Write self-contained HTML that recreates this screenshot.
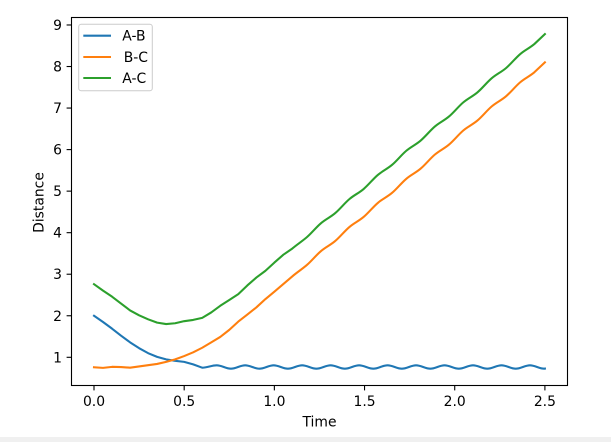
<!DOCTYPE html>
<html><head><meta charset="utf-8"><style>
html,body{margin:0;padding:0;background:#fff;}
svg{display:block;}
text{font-family:"DejaVu Sans","Liberation Sans",sans-serif;font-size:13.9px;fill:#000;}
</style></head><body>
<svg width="611" height="442" viewBox="0 0 611 442" xmlns="http://www.w3.org/2000/svg">
<rect x="0" y="0" width="611" height="442" fill="#fff"/>
<rect x="0" y="437" width="611" height="5" fill="#f0f0f0"/>

<!-- series -->
<g fill="none" stroke-width="2.08" stroke-linejoin="round" stroke-linecap="square">
<path stroke="#1f77b4" d="M94,315.76 L103.02,322.0 L112.04,328.64 L121.05,335.7 L130.07,342.35 L139.09,348.16 L148.11,353.15 L157.13,356.88 L166.14,359.38 L175.16,360.83 L184.18,361.87 L193.2,364.36 L202.2,367.7 C207.3,367.7 211.6,365.3 216.7,365.3 S225.84,368.7 230.94,368.7 S240.08,365.3 245.18,365.3 S254.32,368.7 259.42,368.7 S268.56,365.3 273.66,365.3 S282.8,368.7 287.9,368.7 S297.04,365.3 302.14,365.3 S311.28,368.7 316.38,368.7 S325.52,365.3 330.62,365.3 S339.76,368.7 344.86,368.7 S354,365.3 359.1,365.3 S368.24,368.7 373.34,368.7 S382.48,365.3 387.58,365.3 S396.72,368.7 401.82,368.7 S410.96,365.3 416.06,365.3 S425.2,368.7 430.3,368.7 S439.44,365.3 444.54,365.3 S453.68,368.7 458.78,368.7 S467.92,365.3 473.02,365.3 S482.16,368.7 487.26,368.7 S496.4,365.3 501.5,365.3 S510.64,368.7 515.74,368.7 S524.88,365.3 529.98,365.3 S539.12,368.7 544.22,368.7 L544.9,368.6"/>
<path stroke="#ff7f0e" d="M94,367.27 L103.02,367.89 L112.04,366.85 L121.05,367.06 L130.07,367.68 L139.09,366.44 L148.11,365.19 L157.13,363.95 L166.14,361.87 L175.16,359.38 L184.18,356.05 L193.2,352.32 L202.22,347.75 L211.23,342.35 L220.25,336.95 L229.27,329.88 L238.29,321.58 L247.31,314.51 L256.32,307.45 L265.34,299.14 L274.36,291.67 L292.4,276.3 C297.4,272.06 301.64,269.47 306.64,265.23 S315.88,255.41 320.88,251.17 S330.12,245.34 335.12,241.1 S344.36,231.28 349.36,227.04 S358.6,221.21 363.6,216.97 S372.84,207.14 377.84,202.9 S387.08,197.08 392.08,192.84 S401.32,183.01 406.32,178.77 S415.56,172.95 420.56,168.71 S429.8,158.88 434.8,154.64 S444.04,148.81 449.04,144.57 S458.28,134.75 463.28,130.51 S472.52,124.68 477.52,120.44 S486.76,110.62 491.76,106.38 S501,100.55 506,96.31 S515.24,86.48 520.24,82.24 S529.48,76.42 534.48,72.18 L544.9,62.37"/>
<path stroke="#2ca02c" d="M94,284.19 L103.02,290.6 L112.04,296.65 L121.05,303.6 L130.07,310.4 L139.09,315.3 L148.11,319.3 L157.13,322.6 L166.14,324.07 L175.16,323.24 L184.18,321.16 L193.2,319.91 L202.22,317.84 L211.23,312.44 L220.25,305.79 L229.27,299.97 L238.29,294.16 L247.31,285.44 L256.32,277.54 L265.34,270.9 L274.36,262.59 L283.38,254.7 L292.4,248.47 C297.4,244.23 301.64,241.62 306.64,237.38 S315.88,227.53 320.88,223.29 S330.12,217.44 335.12,213.2 S344.36,203.35 349.36,199.11 S358.6,193.26 363.6,189.02 S372.84,179.17 377.84,174.93 S387.08,169.08 392.08,164.84 S401.32,154.99 406.32,150.75 S415.56,144.9 420.56,140.66 S429.8,130.81 434.8,126.57 S444.04,120.72 449.04,116.48 S458.28,106.63 463.28,102.39 S472.52,96.54 477.52,92.3 S486.76,82.45 491.76,78.21 S501,72.36 506,68.12 S515.24,58.27 520.24,54.03 S529.48,48.18 534.48,43.94 L544.9,34.12"/>
</g>

<!-- axes frame -->
<rect x="71.5" y="17.5" width="496" height="368" fill="none" stroke="#000" stroke-width="1.1"/>

<!-- y ticks -->
<g stroke="#000" stroke-width="1.1">
<line x1="66.6" y1="357.3" x2="71.5" y2="357.3"/>
<line x1="66.6" y1="315.76" x2="71.5" y2="315.76"/>
<line x1="66.6" y1="274.22" x2="71.5" y2="274.22"/>
<line x1="66.6" y1="232.68" x2="71.5" y2="232.68"/>
<line x1="66.6" y1="191.14" x2="71.5" y2="191.14"/>
<line x1="66.6" y1="149.6" x2="71.5" y2="149.6"/>
<line x1="66.6" y1="108.06" x2="71.5" y2="108.06"/>
<line x1="66.6" y1="66.52" x2="71.5" y2="66.52"/>
<line x1="66.6" y1="24.98" x2="71.5" y2="24.98"/>
</g>
<g text-anchor="end">
<text x="62" y="362.3">1</text>
<text x="62" y="320.8">2</text>
<text x="62" y="279.2">3</text>
<text x="62" y="237.7">4</text>
<text x="62" y="196.1">5</text>
<text x="62" y="154.6">6</text>
<text x="62" y="113.1">7</text>
<text x="62" y="71.5">8</text>
<text x="62" y="30">9</text>
</g>

<!-- x ticks -->
<g stroke="#000" stroke-width="1.1">
<line x1="94" y1="385.5" x2="94" y2="390.4"/>
<line x1="184.18" y1="385.5" x2="184.18" y2="390.4"/>
<line x1="274.36" y1="385.5" x2="274.36" y2="390.4"/>
<line x1="364.54" y1="385.5" x2="364.54" y2="390.4"/>
<line x1="454.72" y1="385.5" x2="454.72" y2="390.4"/>
<line x1="544.9" y1="385.5" x2="544.9" y2="390.4"/>
</g>
<g text-anchor="middle">
<text x="94" y="405.8">0.0</text>
<text x="184.18" y="405.8">0.5</text>
<text x="274.36" y="405.8">1.0</text>
<text x="364.54" y="405.8">1.5</text>
<text x="454.72" y="405.8">2.0</text>
<text x="544.9" y="405.8">2.5</text>
</g>

<!-- axis labels -->
<text x="319.5" y="426.5" text-anchor="middle">Time</text>
<text transform="translate(43.3,202.5) rotate(-90)" text-anchor="middle">Distance</text>

<!-- legend -->
<rect x="78.7" y="24.3" width="73.6" height="66.4" rx="2.5" ry="2.5" fill="#fff" fill-opacity="0.8" stroke="#cccccc" stroke-width="1"/>
<g stroke-width="2.08">
<line x1="83.3" y1="35.7" x2="111" y2="35.7" stroke="#1f77b4"/>
<line x1="83.3" y1="57" x2="111" y2="57" stroke="#ff7f0e"/>
<line x1="83.3" y1="78" x2="111" y2="78" stroke="#2ca02c"/>
</g>
<text x="122.3" y="40.7">A-B</text>
<text x="123.7" y="62">B-C</text>
<text x="122.3" y="83">A-C</text>
</svg>
</body></html>
